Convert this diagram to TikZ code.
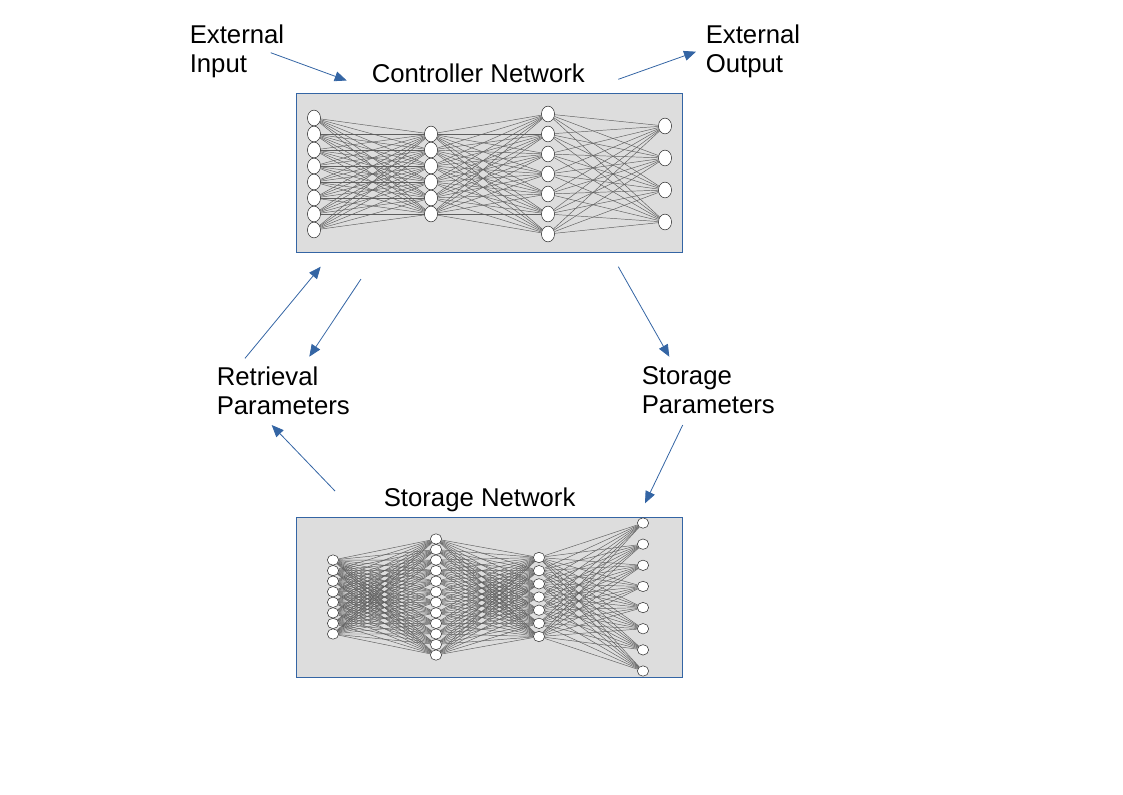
\documentclass[tikz,border=0pt]{standalone}
\usepackage{fontspec}
\setmainfont{Liberation Sans}
\usepackage{tikz}
\usetikzlibrary{positioning}
\usetikzlibrary{shapes.geometric,arrows.meta,backgrounds}
\definecolor{linkblue}{RGB}{52, 101, 164}
\definecolor{boxgray}{RGB}{221, 221, 221}
\definecolor{wiregray}{RGB}{95, 95, 95}

\begin{document}
\begin{tikzpicture}[x=0.75pt, y=-0.75pt,
    txt/.style={font=\fontsize{19.3}{21.75}\selectfont, align=left, inner sep=0pt, anchor=north west},
    flow/.style={linkblue, line width=0.6pt, -{Triangle[length=9pt, width=7.5pt]}},
    netbox/.style={draw=linkblue, fill=boxgray, line width=0.6pt},
    wire/.style={wiregray, line width=0.35pt},
    cunit/.style={ellipse, draw=black!80, fill=white, line width=0.4pt, minimum width=9.8pt, minimum height=11.8pt, inner sep=0pt},
    sunit/.style={ellipse, draw=black!80, fill=white, line width=0.4pt, minimum width=8.5pt, minimum height=7.8pt, inner sep=0pt}]

            \useasboundingbox (0,0) rectangle (1123,794);

            % Grey boxes
            \begin{scope}[on background layer]
              \draw[netbox] (296,93) rectangle (682,252);
              \draw[netbox] (296,517) rectangle (682,677);
            \end{scope}

            % Controller network units (layer/x/count/spacing)
            \foreach \l/\x/\n/\d in {1/314/8/16, 2/431/6/16, 3/548/7/20, 4/665/4/32}
              \foreach \i in {1,...,\n}
                \node[cunit] (c\l-\i) at (\x, {174 + (\i - (\n+1)/2)*\d}) {};

            % Storage network units
            \foreach \l/\x/\n/\d in {1/333/8/10.57, 2/436/12/10.55, 3/539/7/13.17, 4/643/8/21.14}
              \foreach \i in {1,...,\n}
                \node[sunit] (s\l-\i) at (\x, {597 + (\i - (\n+1)/2)*\d}) {};

            % Wires between layers
            \begin{scope}[on background layer]
              \foreach \l/\m/\na/\nb in {1/2/8/6, 2/3/6/7, 3/4/7/4}
                \foreach \i in {1,...,\na}
                  \foreach \j in {1,...,\nb}
                    \draw[wire] (c\l-\i) -- (c\m-\j);
              \foreach \l/\m/\na/\nb in {1/2/8/12, 2/3/12/7, 3/4/7/8}
                \foreach \i in {1,...,\na}
                  \foreach \j in {1,...,\nb}
                    \draw[wire] (s\l-\i) -- (s\m-\j);
            \end{scope}

            % Labels
            \node[txt] (extin) at (189.5,25) {External\\Input};
            \node[txt] (ctrltitle) at (371.5,63.3) {Controller Network};
            \node[txt] (extout) at (705.5,25) {External\\Output};
            \node[txt] (retr) at (216.5,366.5) {Retrieval\\Parameters};
            \node[txt] (stor) at (641.5,366.5) {Storage\\Parameters};
            \node[txt] (stortitle) at (383.5,487.5) {Storage Network};

            % Arrow end points
            \coordinate (inS)  at (270.7,52.7);  \coordinate (inT)  at (346.7,80.5);
            \coordinate (outS) at (618.3,79.3);  \coordinate (outT) at (696,51.7);
            \coordinate (upS)  at (245,358.3);   \coordinate (upT)  at (320.7,266.7);
            \coordinate (dnS)  at (361,279);     \coordinate (dnT)  at (309.3,356.7);
            \coordinate (rbS)  at (335,491);     \coordinate (rbT)  at (271.7,425);
            \coordinate (spS)  at (618.3,266.7); \coordinate (spT)  at (669.3,356.7);
            \coordinate (snS)  at (682.7,425);   \coordinate (snT)  at (645,503.3);

            % Arrows
            \draw[flow] (inS) -- (inT);
            \draw[flow] (outS) -- (outT);
            \draw[flow] (upS) -- (upT);
            \draw[flow] (dnS) -- (dnT);
            \draw[flow] (rbS) -- (rbT);
            \draw[flow] (spS) -- (spT);
            \draw[flow] (snS) -- (snT);

\end{tikzpicture}
\end{document}
